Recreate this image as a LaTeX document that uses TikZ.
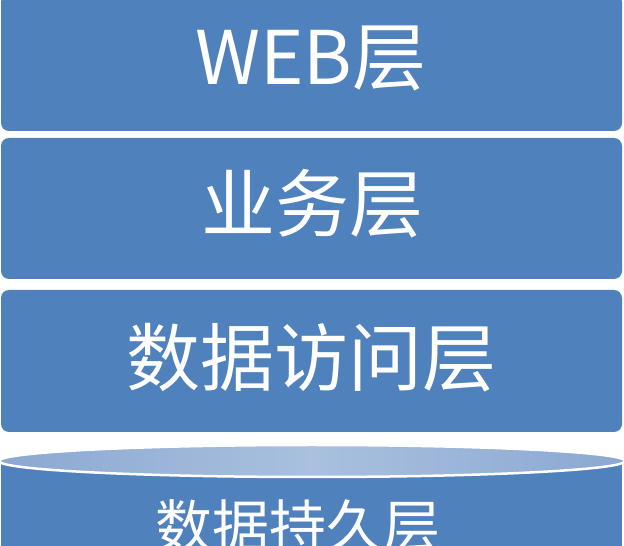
\documentclass[tikz,border=0pt]{standalone}
\usepackage{fontspec}
\newfontfamily\cjk{Noto Sans CJK SC}
\definecolor{layerblue}{HTML}{4F81BD}
\definecolor{lidlight}{HTML}{A9C0DF}
\definecolor{liddark}{HTML}{8CA8D1}
\tikzset{
	layer/.style={fill=layerblue, rounded corners=8pt},
	layertext/.style={text=white, inner sep=0pt, font=\cjk\fontsize{74}{80}\selectfont},
	lid/.style={draw=white, line width=2.5pt, left color=liddark, right color=liddark, middle color=lidlight}
}
\begin{document}
\begin{tikzpicture}[x=1pt,y=1pt]
\useasboundingbox (0,0) rectangle (624,546);
\def\weblayer{(1,415) rectangle (622,552)}
\def\bizlayer{(1,267) rectangle (622,408)}
\def\daolayer{(1,114) rectangle (622,256)}
\def\storebody{(1,-20) rectangle (622,85)}
\def\storelid{(312,85) ellipse (313 and 16)}

\fill[layer] \weblayer;
\fill[layer] \bizlayer;
\fill[layer] \daolayer;
\fill[layerblue] \storebody;
\path[lid] \storelid;

\node[layertext] (web) at (311,488) {WEB层};
\node[layertext] (biz) at (312,342) {业务层};
\node[layertext] (dao) at (311,188) {数据访问层};
\node[layertext, font=\cjk\fontsize{57}{62}\selectfont] (store) at (298,20) {数据持久层};
\end{tikzpicture}
\end{document}
